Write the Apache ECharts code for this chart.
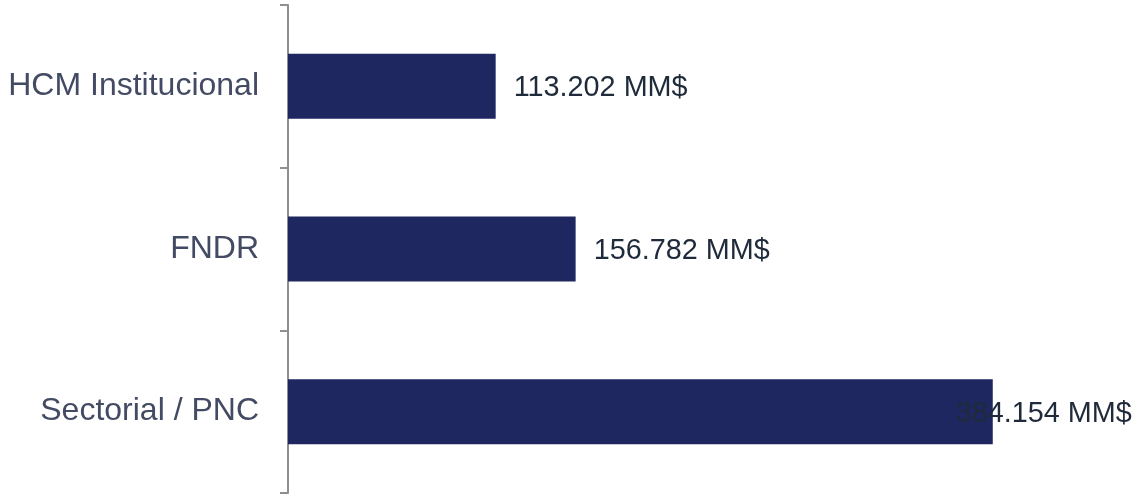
<!DOCTYPE html>
<html>
<head>
<meta charset="utf-8">
<script src="https://cdn.jsdelivr.net/npm/echarts@6/dist/echarts.min.js"></script>
<style>
  html, body { margin: 0; padding: 0; background: #fff; }
  #chart { width: 1137px; height: 495px; }
</style>
</head>
<body>
<div id="chart"></div>
<script>
// categories, top to bottom
var categories = ['HCM Institucional', 'FNDR', 'Sectorial / PNC'];
// amounts in MM$
var amounts = [113.202, 156.782, 384.154];
var valueLabels = ['113.202 MM$', '156.782 MM$', '384.154 MM$'];

var chart = echarts.init(document.getElementById('chart'), null, { renderer: 'canvas' });

var barData = amounts.map(function (v, i) {
  var item = { value: v };
  // the last label sits over the end of the bar
  if (i === amounts.length - 1) {
    item.label = { offset: [-55, 2] };
  }
  return item;
});

var option = {
  animation: false,
  grid: {
    left: 288,
    right: 117,
    top: 5,
    bottom: 2,
    containLabel: false
  },
  xAxis: {
    type: 'value',
    min: 0,
    max: 399,
    show: false
  },
  yAxis: {
    type: 'category',
    data: categories,
    inverse: true,
    axisLine: { show: true, lineStyle: { color: '#8f8f8f', width: 2 } },
    axisTick: { show: true, length: 8, lineStyle: { color: '#8f8f8f', width: 2 } },
    axisLabel: {
      margin: 29,
      color: '#434a63',
      fontSize: 32,
      fontFamily: 'Liberation Sans',
      padding: [2, 0, 0, 0]
    },
    splitLine: { show: false }
  },
  series: [{
    type: 'bar',
    data: barData,
    barWidth: 65,
    itemStyle: { color: '#1f2761' },
    label: {
      show: true,
      position: 'right',
      distance: 18,
      offset: [0, 2],
      color: '#1f2a3a',
      fontSize: 28.8,
      fontFamily: 'Liberation Sans',
      formatter: function (p) { return valueLabels[p.dataIndex]; }
    }
  }]
};

chart.setOption(option);
</script>
</body>
</html>
